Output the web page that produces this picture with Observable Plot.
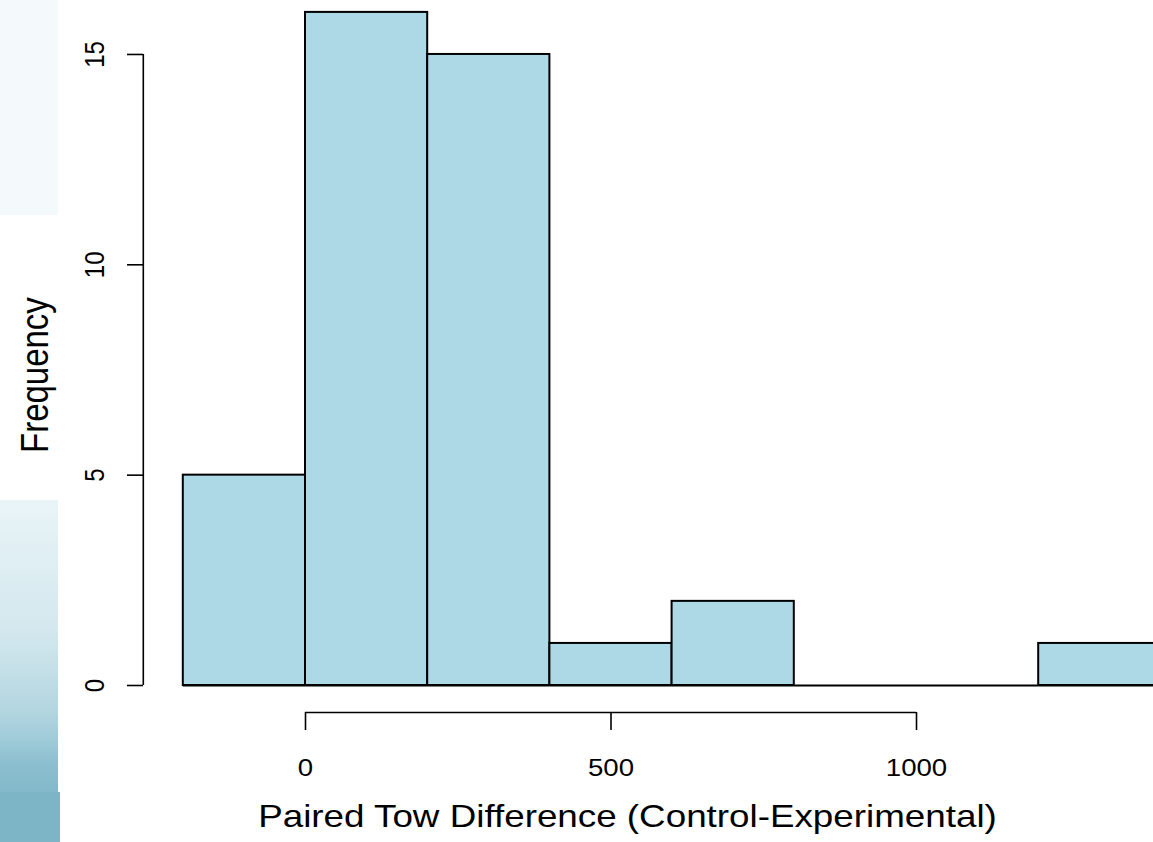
<!DOCTYPE html>
<html>
<head>
<meta charset="utf-8">
<script src="https://cdn.jsdelivr.net/npm/d3@7"></script>
<script src="https://cdn.jsdelivr.net/npm/@observablehq/plot@0.6"></script>
<style>
  html, body { margin: 0; padding: 0; background: #fff; overflow: hidden; }
  #wrap { position: relative; width: 1153px; height: 842px; overflow: hidden; }
  .bg { position: absolute; left: 0; }
  #bg1 { top: 0; width: 58px; height: 215px; background: #f4fafc; }
  #bg2 { top: 500px; width: 58px; height: 292px;
         background: linear-gradient(to bottom, #e9f4f7 0%, #d3e8ee 45%, #b3d6e0 72%, #9fcbd8 82%, #8cbfcf 90%, #82b9ca 100%); }
  #bg3 { top: 792px; width: 60px; height: 50px; background: #7db4c6; }
  #chart { position: absolute; left: 0; top: 0; }
</style>
</head>
<body>
<div id="wrap">
  <div class="bg" id="bg1"></div>
  <div class="bg" id="bg2"></div>
  <div class="bg" id="bg3"></div>
  <div id="chart"></div>
</div>
<script>
// Histogram bins (Paired Tow Difference) and their counts
const binStarts = [-200, 0, 200, 400, 600, 800, 1000, 1200];
const binEnds   = [0, 200, 400, 600, 800, 1000, 1200, 1400];
const counts    = [5, 16, 15, 1, 2, 0, 0, 1];
const xTicks = [0, 500, 1000];
const yTicks = [0, 5, 10, 15];
const xTitle = "Paired Tow Difference (Control-Experimental)";
const yTitle = "Frequency";

const bins = binStarts.map((s, i) => ({x1: s, x2: binEnds[i], count: counts[i]}));
const font = "Liberation Sans, Arial, Helvetica, sans-serif";

const chart = Plot.plot({
  width: 1153,
  height: 842,
  marginLeft: 183,
  marginRight: 0,
  marginTop: 12,
  marginBottom: 157,
  style: {fontFamily: font, background: "transparent", overflow: "visible"},
  x: {domain: [-200, 1400], range: [182.8, 1160.4]},
  y: {domain: [0, 16], range: [685, 11.9]},
  marks: [
    // baseline for empty bins
    Plot.ruleY(bins, {x1: "x1", x2: "x2", y: 0, stroke: "black", strokeWidth: 2}),
    Plot.rectY(bins.filter(d => d.count > 0), {
      x1: "x1", x2: "x2", y1: 0, y2: "count",
      fill: "#add8e6", stroke: "black", strokeWidth: 2
    }),
    // Y axis (R style, offset)
    Plot.axisY({ticks: yTicks, tickSize: 16, tickFormat: () => "", label: null, dx: -40, strokeWidth: 1.6, stroke: "black"}),
    Plot.ruleX([-200], {y1: yTicks[0], y2: yTicks[yTicks.length - 1], dx: -40, stroke: "black", strokeWidth: 1.6}),
    Plot.text(yTicks, {x: -200, y: d => d, text: d => String(d), dx: -88, rotate: -90,
      fontSize: 24, fill: "black", fontFamily: font}),
    // X axis (R style, offset)
    Plot.axisX({ticks: xTicks, tickSize: 18, tickFormat: () => "", label: null, dy: 27, strokeWidth: 1.6, stroke: "black"}),
    Plot.ruleY([0], {x1: xTicks[0], x2: xTicks[xTicks.length - 1], dy: 27, stroke: "black", strokeWidth: 1.6}),
    Plot.text(xTicks, {x: d => d, y: 0, text: d => String(d), dy: 83,
      fontSize: 24, fill: "black", fontFamily: font}),
    // Titles
    Plot.text([xTitle], {frameAnchor: "bottom", dx: -41, dy: 141, fontSize: 32, fill: "black", fontFamily: font}),
    Plot.text([yTitle], {frameAnchor: "left", dx: -148, dy: 104, rotate: -90, fontSize: 33, fill: "black", fontFamily: font})
  ]
});
// the reference image is slightly stretched horizontally; widen glyphs to match
d3.select(chart).selectAll('g[aria-label="text"] text').each(function() {
  const t = this.getAttribute("transform") || "";
  const rotated = /rotate/.test(t) || /rotate/.test(this.parentNode.getAttribute("transform") || "");
  this.setAttribute("transform", (t + (rotated ? " scale(1,1.15)" : " scale(1.15,1)")).trim());
});
document.getElementById("chart").appendChild(chart);
</script>
</body>
</html>
